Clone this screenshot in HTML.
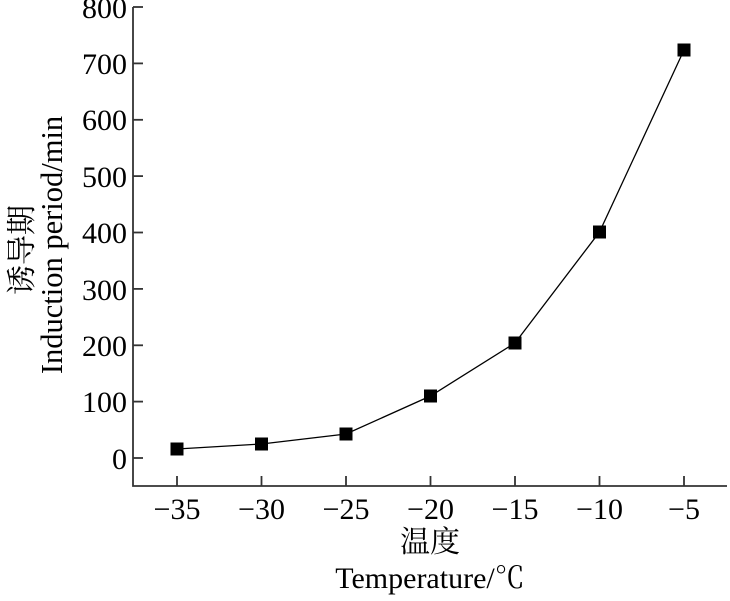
<!DOCTYPE html>
<html><head><style>body{margin:0;background:#fff}</style></head><body>
<svg width="730" height="596" xmlns="http://www.w3.org/2000/svg" font-family="'Liberation Serif','Noto Serif CJK SC',serif" fill="#000">
<g stroke="#333" stroke-width="1.8" fill="none">
<polyline points="133,7 133,486 727,486"/>
<line x1="133" y1="7" x2="143" y2="7"/><line x1="133" y1="63.4" x2="143" y2="63.4"/>
<line x1="133" y1="119.8" x2="143" y2="119.8"/><line x1="133" y1="176.1" x2="143" y2="176.1"/>
<line x1="133" y1="232.5" x2="143" y2="232.5"/><line x1="133" y1="288.9" x2="143" y2="288.9"/>
<line x1="133" y1="345.3" x2="143" y2="345.3"/><line x1="133" y1="401.6" x2="143" y2="401.6"/>
<line x1="133" y1="458" x2="143" y2="458"/>
<line x1="177" y1="486" x2="177" y2="476"/><line x1="261.5" y1="486" x2="261.5" y2="476"/>
<line x1="346" y1="486" x2="346" y2="476"/><line x1="430.5" y1="486" x2="430.5" y2="476"/>
<line x1="515" y1="486" x2="515" y2="476"/><line x1="599.5" y1="486" x2="599.5" y2="476"/>
<line x1="684" y1="486" x2="684" y2="476"/>
</g>
<g font-size="30" text-anchor="end">
<text x="127" y="18">800</text><text x="127" y="74">700</text><text x="127" y="130">600</text>
<text x="127" y="187">500</text><text x="127" y="243">400</text><text x="127" y="300">300</text>
<text x="127" y="356">200</text><text x="127" y="412">100</text><text x="127" y="469">0</text>
</g>
<g font-size="30" text-anchor="middle">
<text x="177" y="519">−35</text><text x="261.5" y="519">−30</text><text x="346" y="519">−25</text>
<text x="430.5" y="519">−20</text><text x="515" y="519">−15</text><text x="599.5" y="519">−10</text>
<text x="684" y="519">−5</text>
<text x="430" y="552" font-size="30">温度</text>
<text x="430" y="588" font-size="30">Temperature/℃</text>
</g>
<text transform="translate(62,245) rotate(-90)" font-size="30.5" text-anchor="middle">Induction period/min</text>
<text transform="translate(32,250) rotate(-90)" font-size="30" text-anchor="middle">诱导期</text>
<polyline fill="none" stroke="#000" stroke-width="1.3" points="177,449 261.5,444 346,434 430.5,396 515,343 599.5,232 684,50"/>
<g>
<rect x="170.5" y="442.5" width="13" height="13"/><rect x="255" y="437.5" width="13" height="13"/>
<rect x="339.5" y="427.5" width="13" height="13"/><rect x="424" y="389.5" width="13" height="13"/>
<rect x="508.5" y="336.5" width="13" height="13"/><rect x="593" y="225.5" width="13" height="13"/>
<rect x="677.5" y="43.5" width="13" height="13"/>
</g>
</svg>
</body></html>
